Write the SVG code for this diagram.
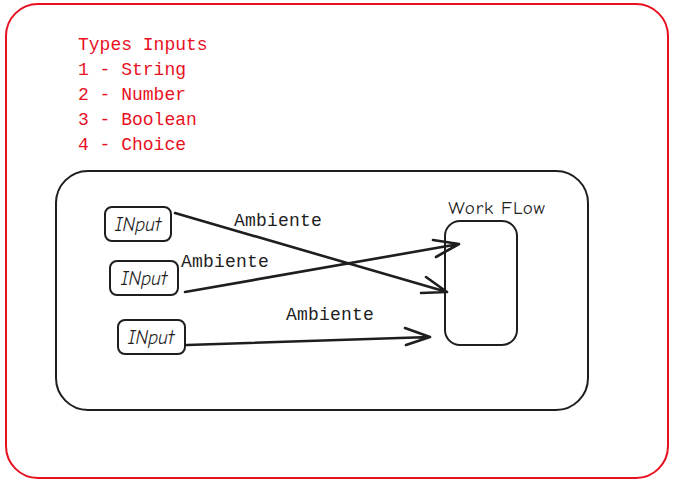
<svg xmlns="http://www.w3.org/2000/svg" width="679" height="497" viewBox="0 0 679 497">
<style>
.red{fill:none;stroke:#e8101f;stroke-width:2}
.box{fill:none;stroke:#1e1e1e;stroke-width:2}
.rt{font-family:"Liberation Mono","DejaVu Sans Mono",monospace;font-size:18px;fill:#e8101f}
.lbl{font-family:"Liberation Mono","DejaVu Sans Mono",monospace;font-size:18px;fill:#1e1e1e;letter-spacing:0.2px}
.hand{font-family:"Comic Neue","Noto Sans","DejaVu Sans",sans-serif;font-size:19px;font-style:italic;fill:#1e1e1e}
.ln{fill:none;stroke:#1e1e1e;stroke-width:2.6;stroke-linecap:round;stroke-linejoin:round}
</style>
<rect width="679" height="497" fill="#ffffff"/>
<g id="frame">
<rect class="red" x="6" y="4" width="662" height="474" rx="32"/>
</g>
<g id="legend">
<text class="rt" x="78" y="50">Types Inputs</text>
<text class="rt" x="78" y="75">1 - String</text>
<text class="rt" x="78" y="100">2 - Number</text>
<text class="rt" x="78" y="125">3 - Boolean</text>
<text class="rt" x="78" y="150">4 - Choice</text>
</g>
<g id="container">
<rect class="box" x="56" y="171" width="532" height="239" rx="32"/>
</g>
<g id="input1">
<rect class="box" x="105" y="207" width="66" height="34" rx="7"/>
<text class="hand" x="138" y="231" text-anchor="middle">INput</text>
</g>
<g id="input2">
<rect class="box" x="110" y="261" width="68" height="34" rx="7"/>
<text class="hand" x="144" y="285" text-anchor="middle">INput</text>
</g>
<g id="input3">
<rect class="box" x="118" y="320" width="67" height="34" rx="7"/>
<text class="hand" x="151" y="344" text-anchor="middle">INput</text>
</g>
<g id="workflow">
<rect class="box" x="445" y="221" width="72" height="124" rx="15"/>
<text class="hand" x="497" y="214" text-anchor="middle" style="font-style:normal;font-size:19px;letter-spacing:0.8px">Work FLow</text>
</g>
<g id="connectors">
<path class="ln" d="M175 213 L447 292 M426 277 L447 292 L421 293"/>
<path class="ln" d="M185 292 L459 244 M433 240 L459 244 L436 257"/>
<path class="ln" d="M187 345 L430 337 M405 328 L430 337 L406 345"/>
<text class="lbl" x="234" y="226">Ambiente</text>
<text class="lbl" x="181" y="267">Ambiente</text>
<text class="lbl" x="286" y="320">Ambiente</text>
</g>
</svg>
